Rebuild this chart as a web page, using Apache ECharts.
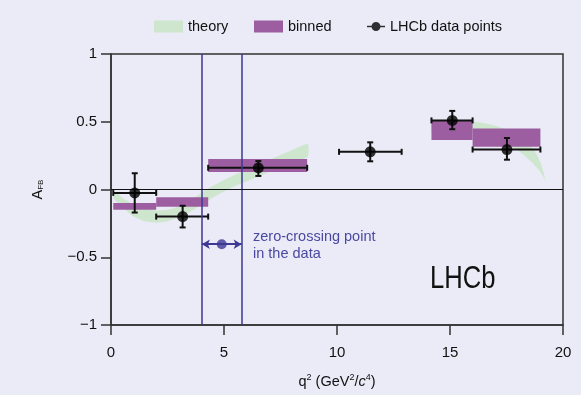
<!DOCTYPE html>
<html>
<head>
<meta charset="utf-8">
<script src="https://cdn.jsdelivr.net/npm/echarts@6/dist/echarts.min.js"></script>
<style>
  html, body { margin: 0; padding: 0; background: #eaebf6; }
  #chart { width: 581px; height: 395px; }
</style>
</head>
<body>
<div id="chart"></div>
<script>
// LHCb data points: bin edges, centre, AFB value and errors
var binLo = [0.1, 2.0, 4.3, 10.09, 14.18, 16.0];
var binHi = [2.0, 4.3, 8.68, 12.86, 16.0, 19.0];
var qCenter = [1.05, 3.17, 6.52, 11.47, 15.1, 17.52];
var afbVal = [-0.025, -0.20, 0.16, 0.278, 0.51, 0.295];
var afbErrUp = [0.145, 0.08, 0.05, 0.07, 0.07, 0.085];
var afbErrDn = [0.145, 0.08, 0.06, 0.07, 0.065, 0.075];

// binned theory boxes
var boxLo = [0.1, 2.0, 4.3, 14.18, 16.0];
var boxHi = [2.0, 4.3, 8.68, 16.0, 19.0];
var boxMin = [-0.15, -0.128, 0.13, 0.365, 0.315];
var boxMax = [-0.10, -0.057, 0.226, 0.51, 0.45];

// theory band, low q2 part
var thLowQ = [0.1, 0.5, 1, 1.5, 2, 2.5, 3, 3.5, 4, 4.5, 5, 5.5, 6, 6.5, 7, 7.5, 8, 8.7];
var thLowUpper = [-0.01, -0.06, -0.11, -0.14, -0.155, -0.15, -0.125, -0.08, -0.025, 0.025, 0.07, 0.11, 0.15, 0.185, 0.22, 0.255, 0.29, 0.335];
var thLowLower = [-0.06, -0.13, -0.2, -0.235, -0.245, -0.235, -0.205, -0.165, -0.11, -0.06, -0.015, 0.025, 0.06, 0.095, 0.13, 0.165, 0.2, 0.24];
// theory band, high q2 part
var thHighQ = [14.2, 15, 16, 16.6, 17, 17.5, 18, 18.5, 18.8, 19.0, 19.15, 19.22];
var thHighUpper = [0.49, 0.5, 0.5, 0.487, 0.47, 0.44, 0.39, 0.33, 0.27, 0.2, 0.12, 0.065];
var thHighLower = [0.42, 0.43, 0.42, 0.39, 0.36, 0.33, 0.29, 0.22, 0.17, 0.13, 0.09, 0.065];

// zero-crossing point in the data
var zeroLo = 4.02, zeroHi = 5.78, zeroVal = 4.9, zeroMarkY = -0.404;

var xTicks = { min: 0, max: 20, interval: 5 };
var yTicks = { min: -1, max: 1, interval: 0.5 };

var FONT = 'Liberation Sans';
var TXT = '#111';
var green = '#cde6cd';
var purple = '#9c5ea0';
var blue = '#3d3893';

var theorySegs = [
  { q: thLowQ, up: thLowUpper, lo: thLowLower },
  { q: thHighQ, up: thHighUpper, lo: thHighLower }
];

var boxData = [];
for (var i = 0; i < boxLo.length; i++) boxData.push([boxLo[i], boxHi[i], boxMin[i], boxMax[i]]);
var errData = [];
var ptData = [];
for (var j = 0; j < qCenter.length; j++) {
  errData.push([qCenter[j], afbVal[j], binLo[j], binHi[j], afbVal[j] - afbErrDn[j], afbVal[j] + afbErrUp[j]]);
  ptData.push([qCenter[j], afbVal[j]]);
}

var chart = echarts.init(document.getElementById('chart'));
var option = {
  backgroundColor: '#eaebf6',
  animation: false,
  grid: { left: 111, right: 18, top: 54, bottom: 70, show: true, borderColor: '#333', borderWidth: 1.5 },
  legend: [
    { left: 149, top: 14, itemWidth: 29, itemHeight: 12, data: [{ name: 'theory', icon: 'rect' }],
      textStyle: { fontFamily: FONT, fontSize: 14.5, color: TXT } },
    { left: 249, top: 14, itemWidth: 29, itemHeight: 12, data: [{ name: 'binned', icon: 'rect' }],
      textStyle: { fontFamily: FONT, fontSize: 14.5, color: TXT } },
    { left: 362, top: 14, itemWidth: 18, itemHeight: 10,
      data: [{ name: 'LHCb data points', icon: 'path://M0,4.2H18V5.8H0Z M4.5,5A4.5,4.5 0 1,1 13.5,5A4.5,4.5 0 1,1 4.5,5Z' }],
      textStyle: { fontFamily: FONT, fontSize: 14.5, color: TXT } }
  ],
  xAxis: {
    type: 'value', min: xTicks.min, max: xTicks.max, interval: xTicks.interval,
    axisLine: { onZero: false, lineStyle: { color: '#333', width: 1.5 } },
    axisTick: { length: 10, lineStyle: { color: '#333', width: 1.5 } },
    axisLabel: { margin: 20, fontFamily: FONT, fontSize: 15, color: TXT },
    splitLine: { show: false },
    name: '{a|q}{s|2}{a| (GeV}{s|2}{a|/}{i|c}{s|4}{a|)}',
    nameLocation: 'middle', nameGap: 48,
    nameTextStyle: {
      rich: {
        a: { fontFamily: FONT, fontSize: 14.5, color: TXT },
        i: { fontFamily: FONT, fontSize: 14.5, fontStyle: 'italic', color: TXT },
        s: { fontFamily: FONT, fontSize: 9, color: TXT, verticalAlign: 'top', padding: [0, 0, 9, 0] }
      }
    }
  },
  yAxis: {
    type: 'value', min: yTicks.min, max: yTicks.max, interval: yTicks.interval,
    axisLine: { onZero: false, lineStyle: { color: '#333', width: 1.5 } },
    axisTick: { length: 10, lineStyle: { color: '#333', width: 1.5 } },
    axisLabel: { margin: 14, fontFamily: FONT, fontSize: 15, color: TXT,
      formatter: function (v) { return v < 0 ? '\u2212' + (-v) : String(v); } },
    splitLine: { show: false },
    name: '{a|A}{s|FB}',
    nameLocation: 'middle', nameGap: 66, nameRotate: 90,
    nameTextStyle: {
      rich: {
        a: { fontFamily: FONT, fontSize: 14.5, color: TXT },
        s: { fontFamily: FONT, fontSize: 8, color: TXT, verticalAlign: 'bottom', padding: [5, 0, 0, 0] }
      }
    }
  },
  graphic: [
    { type: 'text', left: 253, top: 228, style: { text: 'zero-crossing point\nin the data', fill: '#4a48a0',
      font: '14.5px "' + FONT + '"', lineHeight: 17 } },
    { type: 'text', x: 430, y: 263, scaleX: 0.8, style: { text: 'LHCb', fill: '#111', font: '32px "' + FONT + '"' } }
  ],
  series: [
    {
      name: 'theory', type: 'custom', z: 1, itemStyle: { color: green },
      data: [[0], [1]],
      renderItem: function (params, api) {
        var seg = theorySegs[api.value(0)];
        var pts = [];
        for (var k = 0; k < seg.q.length; k++) pts.push(api.coord([seg.q[k], seg.up[k]]));
        for (var m = seg.q.length - 1; m >= 0; m--) pts.push(api.coord([seg.q[m], seg.lo[m]]));
        return { type: 'polygon', shape: { points: pts, smooth: 0.2 }, style: { fill: green } };
      }
    },
    {
      name: 'binned', type: 'custom', z: 2, itemStyle: { color: purple },
      data: boxData,
      renderItem: function (params, api) {
        var p0 = api.coord([api.value(0), api.value(3)]);
        var p1 = api.coord([api.value(1), api.value(2)]);
        return { type: 'rect', shape: { x: p0[0], y: p0[1], width: p1[0] - p0[0], height: p1[1] - p0[1] },
          style: { fill: purple } };
      }
    },
    {
      name: 'lines', type: 'line', data: [], z: 3,
      markLine: {
        silent: true, symbol: 'none', label: { show: false },
        data: [
          { xAxis: zeroLo, lineStyle: { color: blue, width: 1.5, type: 'solid' } },
          { xAxis: zeroHi, lineStyle: { color: blue, width: 1.5, type: 'solid' } },
          { yAxis: 0, lineStyle: { color: '#111', width: 1, type: 'solid' } }
        ]
      }
    },
    {
      name: 'zero crossing', type: 'scatter', z: 3, symbolSize: 10,
      itemStyle: { color: blue },
      data: [[zeroVal, zeroMarkY]],
      markLine: {
        silent: true, symbol: ['arrow', 'arrow'], symbolSize: [7, 8], label: { show: false },
        lineStyle: { color: blue, width: 2, type: 'solid' },
        data: [[{ coord: [zeroLo, zeroMarkY] }, { coord: [zeroHi, zeroMarkY] }]]
      }
    },
    {
      name: 'errors', type: 'custom', z: 4,
      data: errData,
      renderItem: function (params, api) {
        var c = api.coord([api.value(0), api.value(1)]);
        var l = api.coord([api.value(2), api.value(1)]);
        var r = api.coord([api.value(3), api.value(1)]);
        var b = api.coord([api.value(0), api.value(4)]);
        var t = api.coord([api.value(0), api.value(5)]);
        var st = { stroke: '#111', lineWidth: 2 };
        var cap = 3;
        return { type: 'group', children: [
          { type: 'line', shape: { x1: l[0], y1: c[1], x2: r[0], y2: c[1] }, style: st },
          { type: 'line', shape: { x1: l[0], y1: c[1] - cap, x2: l[0], y2: c[1] + cap }, style: st },
          { type: 'line', shape: { x1: r[0], y1: c[1] - cap, x2: r[0], y2: c[1] + cap }, style: st },
          { type: 'line', shape: { x1: c[0], y1: t[1], x2: c[0], y2: b[1] }, style: st },
          { type: 'line', shape: { x1: c[0] - cap, y1: t[1], x2: c[0] + cap, y2: t[1] }, style: st },
          { type: 'line', shape: { x1: c[0] - cap, y1: b[1], x2: c[0] + cap, y2: b[1] }, style: st }
        ] };
      }
    },
    {
      name: 'LHCb data points', type: 'scatter', z: 5, symbolSize: 11,
      itemStyle: { color: '#000' },
      data: ptData
    }
  ]
};
chart.setOption(option);
</script>
</body>
</html>
